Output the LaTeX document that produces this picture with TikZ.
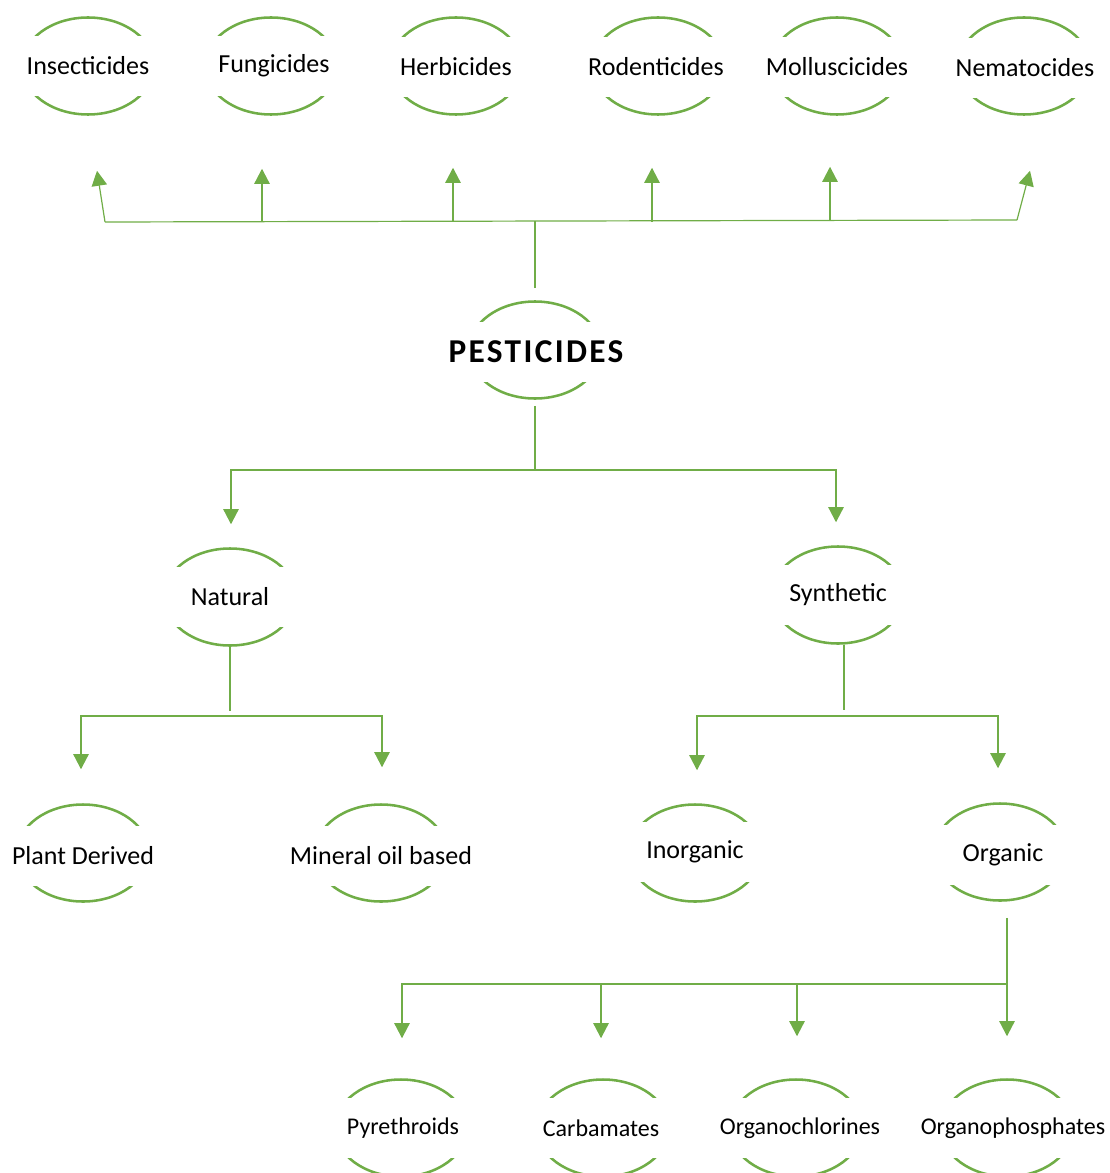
\documentclass[tikz,border=0pt]{standalone}
\usepackage{fontspec}
\setmainfont{Carlito}
\newfontfamily\headfont[LetterSpace=7]{Carlito}
\usepackage{tikz}
\usetikzlibrary{arrows.meta,shapes.geometric}
\definecolor{leafGreen}{RGB}{112,173,71}

\tikzset{
  bubble/.style={ellipse,draw=leafGreen,line width=1.9pt,
                 minimum width=99pt,minimum height=72.75pt,inner sep=0pt},
  band/.style={fill=white,text=black,minimum width=112pt,minimum height=45pt,
               inner sep=0pt,font=\fontsize{19.5}{23}\selectfont},
  smallband/.style={band,font=\fontsize{18}{22}\selectfont},
  link/.style={leafGreen,line width=0.9pt},
  arr/.style={link,-{Triangle[length=11.25pt,width=11.5pt]}}
}

\begin{document}
\begin{tikzpicture}[x=0.75pt,y=-0.75pt]
    \useasboundingbox (0,0) rectangle (1109,1173);

    % ── TIPOS (linha de cima) ─────────────────────────────
    \node[bubble] (ins) at (88,66)  {};  \node[band] at (ins) {Insecticides};
    \node[bubble] (fun) at (271,66) {};  \node[band] at ([shift={(3,0)}]fun) {Fungicides};
    \node[bubble] (her) at (456,66) {};  \node[band] at ([shift={(0,1)}]her) {Herbicides};
    \node[bubble] (rod) at (658,66) {};  \node[band] at ([shift={(-2,1)}]rod) {Rodenticides};
    \node[bubble] (mol) at (837,66) {};  \node[band] at ([shift={(0,1)}]mol) {Molluscicides};
    \node[bubble] (nem) at (1024,66) {}; \node[band] at ([shift={(1,2)}]nem) {Nematocides};

    % ── PESTICIDES ────────────────────────────────────────
    \node[bubble] (pest) at (535,350) {};
    \node[band,font=\headfont\bfseries\fontsize{25}{29}\selectfont] at ([shift={(1,2)}]pest) {PESTICIDES};

    % ── NATURAL / SYNTHETIC ───────────────────────────────
    \node[bubble] (nat) at (230,597) {}; \node[band] at (nat) {Natural};
    \node[bubble] (syn) at (838,595) {}; \node[band] at (syn) {Synthetic};

    \node[bubble] (plant) at (83,853)  {}; \node[band] at ([shift={(0,3)}]plant) {Plant Derived};
    \node[bubble] (mine)  at (381,853) {}; \node[band] at ([shift={(0,3)}]mine)  {Mineral oil based};
    \node[bubble] (inorg) at (695,853) {}; \node[band] at ([shift={(0,-1)}]inorg) {Inorganic};
    \node[bubble] (org)   at (1000,852) {}; \node[band] at ([shift={(3,3)}]org)  {Organic};

    % ── ORGANIC (linha de baixo) ──────────────────────────
    \node[bubble] (pyr)   at (401,1128)  {}; \node[smallband] at ([shift={(2,0)}]pyr)   {Pyrethroids};
    \node[bubble] (carb)  at (603,1128)  {}; \node[smallband] at ([shift={(-2,0)}]carb)  {Carbamates};
    \node[bubble] (orgcl) at (796,1128)  {}; \node[smallband] at ([shift={(4,0)}]orgcl) {Organochlorines};
    \node[bubble] (orgph) at (1007,1128) {}; \node[smallband] at ([shift={(6,0)}]orgph) {Organophosphates};

    % ── SETAS PARA CIMA ───────────────────────────────────
    \coordinate (hubTop) at (535,221);
    \coordinate (barL) at (105,222);
    \coordinate (barR) at (1017,220);
    \draw[link] ([shift={(0,-12)}]pest.north) -- (hubTop);
    \draw[link] (barL) -- (barR);
    \draw[arr] (barL) -- ([shift={(9,55)}]ins.south);
    \draw[arr] ([shift={(-9,106)}]fun.south) -- ([shift={(-9,53)}]fun.south);
    \draw[arr] ([shift={(-3,106)}]her.south) -- ([shift={(-3,52)}]her.south);
    \draw[arr] ([shift={(-6,106)}]rod.south) -- ([shift={(-6,52)}]rod.south);
    \draw[arr] ([shift={(-7,105)}]mol.south) -- ([shift={(-7,51)}]mol.south);
    \draw[arr] (barR) -- ([shift={(6,55)}]nem.south);

    % ── NATURAL x SYNTHETIC ───────────────────────────────
    \coordinate (hubMid) at (535,470);
    \draw[link] ([shift={(0,6)}]pest.south) -- (hubMid);
    \draw[arr] (hubMid) -| ([shift={(1,-23)}]nat.north);
    \draw[arr] (hubMid) -| ([shift={(-2,-23)}]syn.north);

    \coordinate (natBar) at (230,716);
    \draw[link] (nat.south) -- ([shift={(0,64)}]nat.south);
    \draw[arr] (natBar) -| ([shift={(-2,-34)}]plant.north);
    \draw[arr] (natBar) -| ([shift={(1,-36)}]mine.north);

    \coordinate (synBar) at (844,716);
    \draw[link] ([shift={(6,0)}]syn.south) -- ([shift={(6,65)}]syn.south);
    \draw[arr] (synBar) -| ([shift={(2,-33)}]inorg.north);
    \draw[arr] (synBar) -| ([shift={(-2,-34)}]org.north);

    % ── ORGANIC ───────────────────────────────────────────
    \coordinate (orgBar) at (1007,984);
    \draw[link] ([shift={(7,16)}]org.south) -- (orgBar);
    \draw[arr] (orgBar) -- ([shift={(0,-42)}]orgph.north);
    \draw[arr] (orgBar) -| ([shift={(1,-40)}]pyr.north);
    \draw[arr] ([shift={(-2,-95)}]carb.north) -- ([shift={(-2,-40)}]carb.north);
    \draw[arr] ([shift={(1,-95)}]orgcl.north) -- ([shift={(1,-42)}]orgcl.north);

\end{tikzpicture}
\end{document}
